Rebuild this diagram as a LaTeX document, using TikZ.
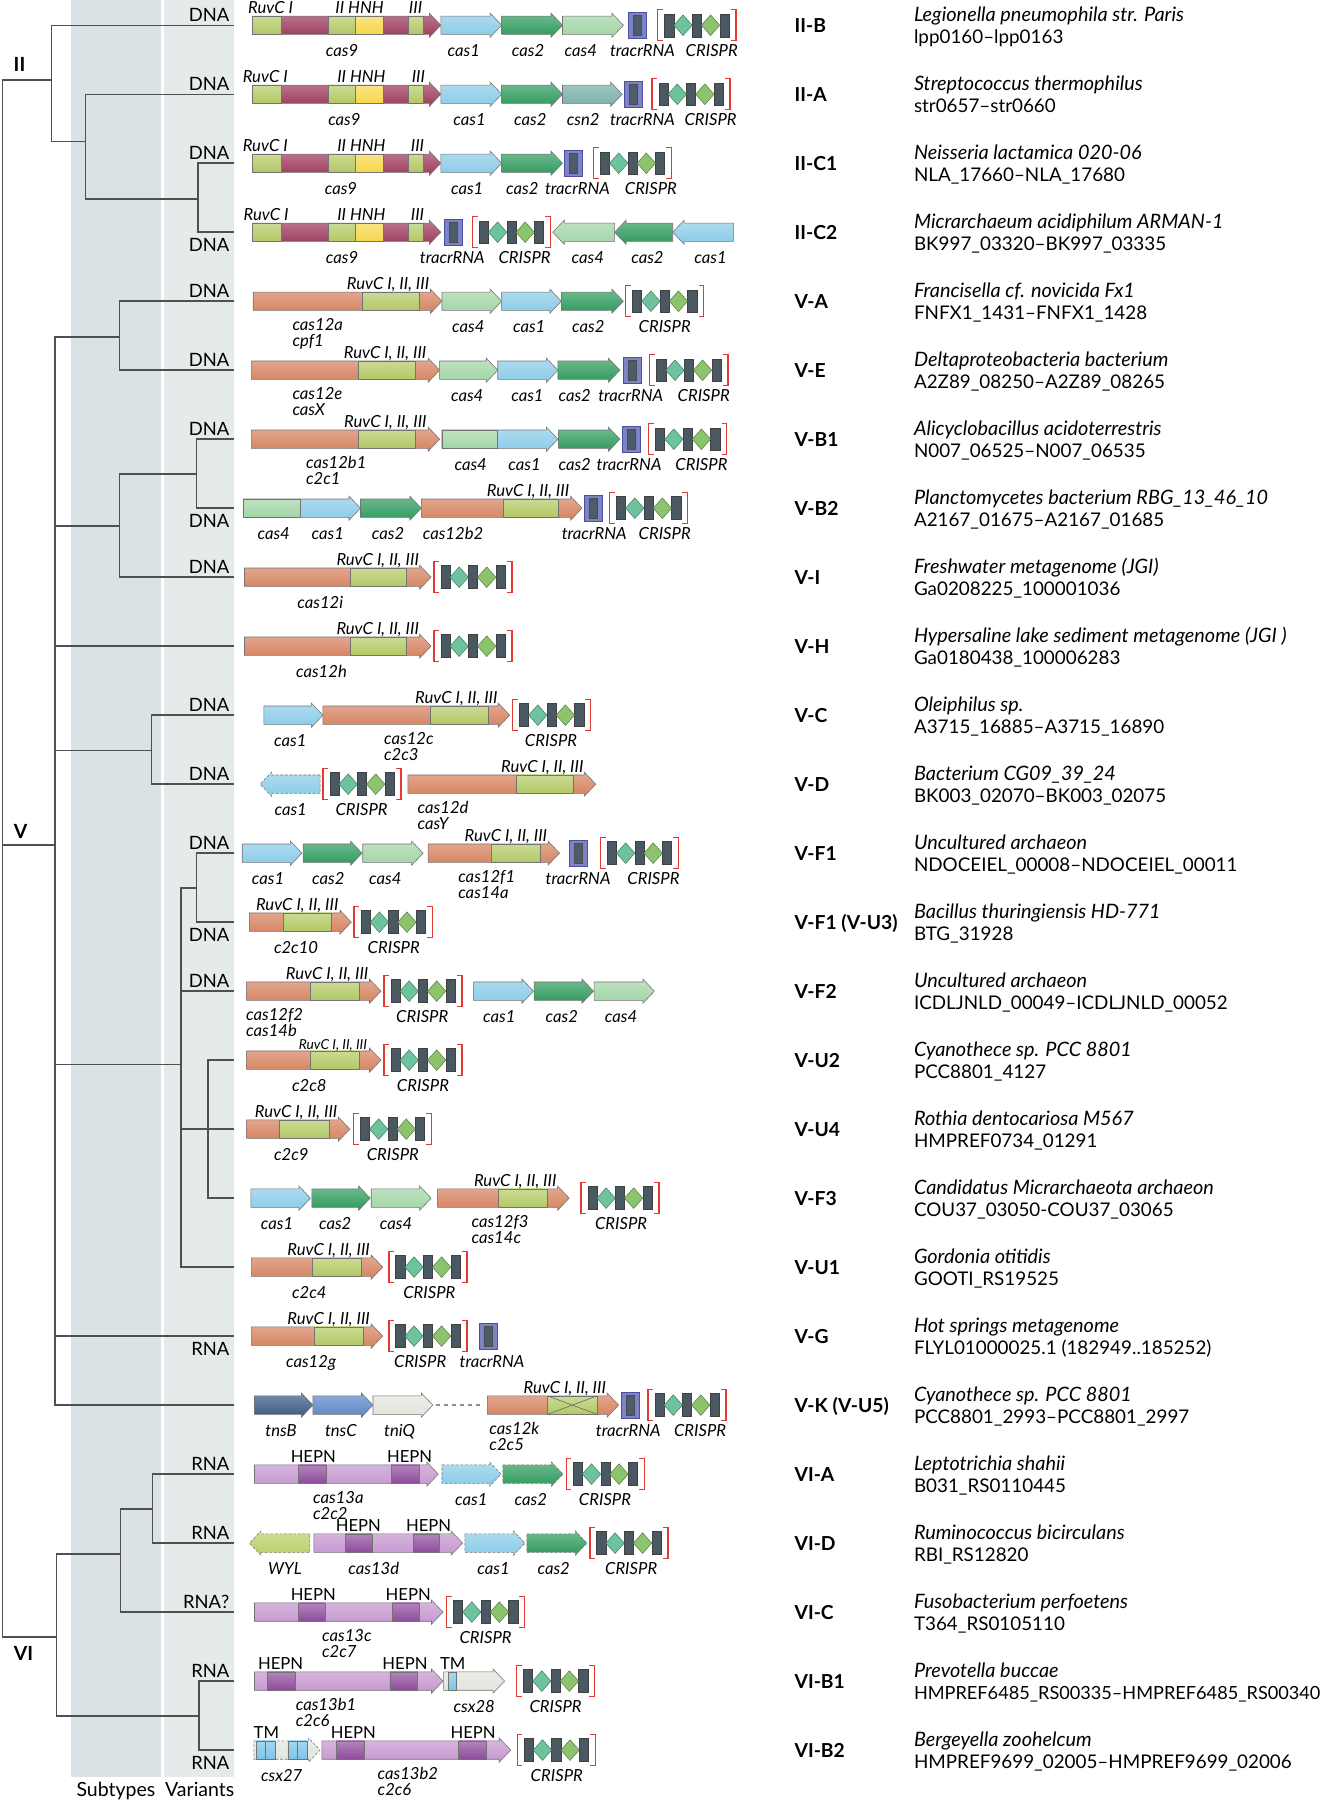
\documentclass[tikz,border=0pt]{standalone}
\usepackage{fontspec}
\setmainfont{Lato}
\definecolor{rv}{HTML}{B2C864}
\definecolor{c9}{HTML}{9C3A5C}
\definecolor{hnh}{HTML}{F6D64B}
\definecolor{c12}{HTML}{D5825F}
\definecolor{cs1}{HTML}{8ACBE8}
\definecolor{cs2}{HTML}{2E9A5C}
\definecolor{cs4}{HTML}{A2D5A6}
\definecolor{csn}{HTML}{79AFA8}
\definecolor{tnb}{HTML}{3B5882}
\definecolor{tnc}{HTML}{5B86C6}
\definecolor{tnq}{HTML}{E4E4DE}
\definecolor{c13}{HTML}{C597CF}
\definecolor{hepn}{HTML}{8E4B9B}
\definecolor{wyl}{HTML}{B8CF66}
\definecolor{tmc}{HTML}{7CC3E8}
\definecolor{repC}{HTML}{4A5862}
\definecolor{dA}{HTML}{6CC39D}
\definecolor{dB}{HTML}{8BC46C}
\definecolor{crRed}{HTML}{E53935}
\definecolor{trO}{HTML}{7E83C8}
\definecolor{trB}{HTML}{4B4F9C}
\definecolor{trI}{HTML}{4E5B68}
\definecolor{bandS}{HTML}{DAE2E5}
\definecolor{bandV}{HTML}{E5EAEB}
\definecolor{treec}{HTML}{505050}
\tikzset{
 gene/.style={top color=#1!68!white, bottom color=#1, draw=black!55, line width=0.5pt},
 dgene/.style={gene=#1, dashed, dash pattern=on 2.5pt off 1.5pt},
 brk/.style={draw=crRed, line width=1.2pt},
 repbox/.style={fill=repC, draw=black!75, line width=0.4pt},
 treeline/.style={draw=treec, line width=1.3pt},
 glab/.style={font=\fontsize{14.5}{15}\selectfont\itshape, inner sep=0pt, text height=10pt, text depth=3pt, yshift=-2.5pt},
 hlab/.style={font=\fontsize{14.5}{15}\selectfont, inner sep=0pt, text height=10pt, text depth=3pt, yshift=-2.5pt},
 dnal/.style={font=\fontsize{16}{18}\selectfont, anchor=east, inner sep=0pt, text height=11.5pt, text depth=3.5pt, yshift=-2.5pt},
 subl/.style={font=\fontsize{16.8}{18}\selectfont\bfseries, anchor=west, inner sep=0pt, text height=11.5pt, text depth=3.5pt, yshift=-2.5pt},
 spcl/.style={font=\fontsize{17.3}{18}\selectfont\itshape, anchor=west, inner sep=0pt, text height=11.5pt, text depth=3.5pt, yshift=-2.5pt},
 accl/.style={font=\fontsize{16.4}{18}\selectfont, anchor=west, inner sep=0pt, text height=11.5pt, text depth=3.5pt, yshift=-2.5pt},
 blab/.style={font=\fontsize{17}{18}\selectfont, inner sep=0pt, text height=11.5pt, text depth=3.5pt, yshift=-2.5pt},
 cladel/.style={font=\fontsize{17}{18}\selectfont\bfseries, inner sep=0pt},
 tnline/.style={draw=black!45, line width=1.6pt, dash pattern=on 4pt off 3pt},
}
\def\Y{0}
\newcommand{\myarr}[3]{\path[gene=#3] (#1,\Y-8) -- ({#2-10},\Y-8) -- ({#2-10},\Y-10.5) -- (#2,\Y) -- ({#2-10},\Y+10.5) -- ({#2-10},\Y+8) -- (#1,\Y+8) -- cycle;}
\newcommand{\myarrd}[3]{\path[dgene=#3] (#1,\Y-8) -- ({#2-10},\Y-8) -- ({#2-10},\Y-10.5) -- (#2,\Y) -- ({#2-10},\Y+10.5) -- ({#2-10},\Y+8) -- (#1,\Y+8) -- cycle;}
\newcommand{\myarl}[3]{\path[gene=#3] (#2,\Y-8) -- ({#1+10},\Y-8) -- ({#1+10},\Y-10.5) -- (#1,\Y) -- ({#1+10},\Y+10.5) -- ({#1+10},\Y+8) -- (#2,\Y+8) -- cycle;}
\newcommand{\myarld}[3]{\path[dgene=#3] (#2,\Y-8) -- ({#1+10},\Y-8) -- ({#1+10},\Y-10.5) -- (#1,\Y) -- ({#1+10},\Y+10.5) -- ({#1+10},\Y+8) -- (#2,\Y+8) -- cycle;}
\newcommand{\myseg}[3]{\path[gene=#3] (#1,\Y-8) rectangle (#2,\Y+8);}
\newcommand{\mytracr}[1]{\path[fill=trO, draw=trB, line width=0.7pt] (#1,\Y-11.5) rectangle ({#1+16},\Y+11.5);
 \path[fill=trI, draw=black!70, line width=0.4pt] ({#1+4.5},\Y-8.5) rectangle ({#1+11.5},\Y+8.5);}
\newcommand{\mycrispr}[1]{%
 \draw[brk] ({#1+4.5},\Y-13.5) -- (#1,\Y-13.5) -- (#1,\Y+13.5) -- ({#1+4.5},\Y+13.5);
 \draw[brk] ({#1+63.5},\Y-13.5) -- ({#1+68},\Y-13.5) -- ({#1+68},\Y+13.5) -- ({#1+63.5},\Y+13.5);
 \path[repbox] ({#1+6},\Y-10) rectangle ({#1+14},\Y+10);
 \path[repbox] ({#1+30},\Y-10) rectangle ({#1+38},\Y+10);
 \path[repbox] ({#1+54},\Y-10) rectangle ({#1+62},\Y+10);
 \path[fill=dA, draw=dA!60!black, line width=0.4pt] ({#1+14},\Y) -- ({#1+22},\Y-9) -- ({#1+30},\Y) -- ({#1+22},\Y+9) -- cycle;
 \path[fill=dB, draw=dB!60!black, line width=0.4pt] ({#1+38},\Y) -- ({#1+46},\Y-9) -- ({#1+54},\Y) -- ({#1+46},\Y+9) -- cycle;}
\newcommand{\mygl}[3]{\node[glab] (#1) at (#2,\Y+21.5) {#3};}
\newcommand{\myglw}[4]{\node[glab,anchor=west] (#1a) at (#2,\Y+19.5) {#3}; \node[glab,anchor=west] (#1b) at (#2,\Y+33.5) {#4};}
\newcommand{\mytl}[3]{\node[glab] (#1) at (#2,\Y-16.5) {#3};}
\newcommand{\mytlw}[3]{\node[glab,anchor=west] (#1) at (#2,\Y-16.5) {#3};}
\newcommand{\myhl}[3]{\node[hlab] (#1) at (#2,\Y-16.5) {#3};}
\newcommand{\mycasnine}{\myarr{220}{384}{c9}\myseg{220}{244.8}{rv}\myseg{286.4}{309.7}{rv}\myseg{309.7}{333.5}{hnh}\myseg{355.5}{369.1}{rv}}
\newcommand{\myside}[5]{\node[subl] (s#1) at (692,#2) {#3}; \node[spcl] (p#1) at (796,#2-9.5) {#4}; \node[accl] (a#1) at (796,#2+9.5) {#5};}
\begin{document}
\begin{tikzpicture}[x=1pt,y=-1pt]
\useasboundingbox (0,0) rectangle (1156,1568);
\fill[white] (0,0) rectangle (1156,1568);
\fill[bandS] (62,0) rectangle (140,1548);
\fill[bandV] (143,0) rectangle (204,1548);
\node[blab] (lsub) at (101,1558.5) {Subtypes};
\node[blab] (lvar) at (174,1558.5) {Variants};
% ---------- tree ----------
\coordinate (root) at (2,736);
\coordinate (nII) at (45,69.5);
\coordinate (nA2) at (74.3,123.4);
\coordinate (nA3) at (172.6,173.3);
\coordinate (nV) at (48,736);
\coordinate (nB1) at (104,293.5);
\coordinate (nB2) at (104,458.4);
\coordinate (nB3) at (171,412.8);
\coordinate (nB4) at (132,653.9);
\coordinate (nB5) at (157.7,927.5);
\coordinate (nB6) at (171,773.5);
\coordinate (nB7) at (181,983.6);
\coordinate (nVI) at (49,1426);
\coordinate (nC1) at (104.8,1353.6);
\coordinate (nC2) at (133,1314.7);
\coordinate (nC3) at (173.3,1494.8);
\foreach \i/\yy in {1/22,2/82.1,3/142.2,4/202.3,5/262.4,6/322.5,7/382.6,8/442.7,9/502.8,10/562.9,11/623,12/683.1,13/743.2,14/803.3,15/863.4,16/923.5,17/983.6,18/1043.7,19/1103.8,20/1163.9,21/1224,22/1284.1,23/1344.2,24/1404.3,25/1464.4,26/1524.5}
  {\coordinate (L\i) at (204,\yy);}
\draw[treeline] (root) |- (nII) (root) |- (nV) (root) |- (nVI)
  (nII) |- (L1) (nII) |- (nA2) (nA2) |- (L2) (nA2) |- (nA3) (nA3) |- (L3) (nA3) |- (L4)
  (nV) |- (nB1) (nV) |- (nB2) (nV) |- (L10) (nV) |- (nB4) (nV) |- (nB5) (nV) |- (L20) (nV) |- (L21)
  (nB1) |- (L5) (nB1) |- (L6) (nB2) |- (nB3) (nB2) |- (L9) (nB3) |- (L7) (nB3) |- (L8)
  (nB4) |- (L11) (nB4) |- (L12)
  (nB5) |- (nB6) (nB5) |- (L15) (nB5) |- (nB7) (nB5) |- (L19)
  (nB6) |- (L13) (nB6) |- (L14) (nB7) |- (L16) (nB7) |- (L17) (nB7) |- (L18)
  (nVI) |- (nC1) (nVI) |- (nC3) (nC1) |- (nC2) (nC1) |- (L24)
  (nC2) |- (L22) (nC2) |- (L23) (nC3) |- (L25) (nC3) |- (L26);
\node[cladel] (cII) at (17,56) {II};
\node[cladel] (cV) at (18,724) {V};
\node[cladel] (cVI) at (20.5,1440) {VI};
% ---------- Row 1 ----------
\def\Y{22}
\mycasnine\myarr{384}{437}{cs1}\myarr{437}{490}{cs2}\myarr{490}{543}{cs4}\mytracr{547}\mycrispr{573}
\mytlw{t1a}{216}{RuvC I}\mytlw{t1b}{292}{II HNH}\mytlw{t1c}{356}{III}
\mygl{b1a}{298}{cas9}\mygl{b1b}{404}{cas1}\mygl{b1c}{460}{cas2}\mygl{b1d}{506}{cas4}\mygl{b1e}{559.6}{tracrRNA}\mygl{b1f}{620}{CRISPR}
\node[dnal] (v1) at (200,\Y-9.5) {DNA};
% ---------- Row 2 ----------
\def\Y{82.1}
\mycasnine\myarr{384}{437}{cs1}\myarr{437}{490}{cs2}\myarr{490}{542}{csn}\mytracr{544}\mycrispr{568}
\mytlw{t2a}{211.3}{RuvC I}\mytlw{t2b}{293.6}{II HNH}\mytlw{t2c}{358.5}{III}
\mygl{b2a}{300}{cas9}\mygl{b2b}{409}{cas1}\mygl{b2c}{462}{cas2}\mygl{b2d}{508}{csn2}\mygl{b2e}{559.6}{tracrRNA}\mygl{b2f}{619}{CRISPR}
\node[dnal] (v2) at (200,\Y-9.5) {DNA};
% ---------- Row 3 ----------
\def\Y{142.2}
\mycasnine\myarr{384}{437}{cs1}\myarr{437}{490}{cs2}\mytracr{491.5}\mycrispr{517}
\mytlw{t3a}{211.3}{RuvC I}\mytlw{t3b}{293.6}{II HNH}\mytlw{t3c}{357.7}{III}
\mygl{b3a}{297}{cas9}\mygl{b3b}{407}{cas1}\mygl{b3c}{455}{cas2}\mygl{b3e}{503}{tracrRNA}\mygl{b3f}{567}{CRISPR}
\node[dnal] (v3) at (200,\Y-9.5) {DNA};
% ---------- Row 4 ----------
\def\Y{202.3}
\mycasnine\mytracr{387}\mycrispr{411.5}\myarl{481.5}{535.4}{cs4}\myarl{535.4}{586}{cs2}\myarl{586}{639}{cs1}
\mytlw{t4a}{212}{RuvC I}\mytlw{t4b}{293.6}{II HNH}\mytlw{t4c}{357.7}{III}
\mygl{b4a}{298}{cas9}\mygl{b4b}{394}{tracrRNA}\mygl{b4c}{457}{CRISPR}\mygl{b4d}{512}{cas4}\mygl{b4e}{564}{cas2}\mygl{b4f}{619}{cas1}
\node[dnal] (v4) at (200,\Y+10.5) {DNA};
% ---------- Row 5 ----------
\def\Y{262.4}
\myarr{220.6}{385}{c12}\myseg{316}{365}{rv}\myarr{385}{437}{cs4}\myarr{437}{489}{cs1}\myarr{489}{543}{cs2}\mycrispr{545}
\mytl{t5}{338}{RuvC I, II, III}
\myglw{b5a}{254.6}{cas12a}{cpf1}\mygl{b5b}{408}{cas4}\mygl{b5c}{461}{cas1}\mygl{b5d}{512.5}{cas2}\mygl{b5e}{579}{CRISPR}
\node[dnal] (v5) at (200,\Y-9.5) {DNA};
% ---------- Row 6 ----------
\def\Y{322.5}
\myarr{219}{383}{c12}\myseg{312}{361.5}{rv}\myarr{383}{433.6}{cs4}\myarr{433.6}{486}{cs1}\myarr{486}{540}{cs2}\mytracr{543}\mycrispr{566}
\mytl{t6}{335.5}{RuvC I, II, III}
\myglw{b6a}{254.6}{cas12e}{casX}\mygl{b6b}{407}{cas4}\mygl{b6c}{459.5}{cas1}\mygl{b6d}{500.6}{cas2}\mygl{b6e}{549.4}{tracrRNA}\mygl{b6f}{613}{CRISPR}
\node[dnal] (v6) at (200,\Y-9.5) {DNA};
% ---------- Row 7 ----------
\def\Y{382.6}
\myarr{219}{383}{c12}\myseg{312}{361.5}{rv}\myarr{385}{486}{cs1}\myseg{385}{433.6}{cs4}\myarr{486.6}{540}{cs2}\mytracr{542}\mycrispr{565}
\mytl{t7}{335.7}{RuvC I, II, III}
\myglw{b7a}{266.4}{cas12b1}{c2c1}\mygl{b7b}{410}{cas4}\mygl{b7c}{457}{cas1}\mygl{b7d}{500.6}{cas2}\mygl{b7e}{548}{tracrRNA}\mygl{b7f}{611}{CRISPR}
\node[dnal] (v7) at (200,\Y-9.5) {DNA};
% ---------- Row 8 ----------
\def\Y{442.7}
\myarr{212}{314}{cs1}\myseg{212}{262}{cs4}\myarr{314}{367}{cs2}\myarr{367}{507}{c12}\myseg{438}{486}{rv}\mytracr{509}\mycrispr{531}
\mytl{t8}{460}{RuvC I, II, III}
\mygl{b8a}{238.4}{cas4}\mygl{b8b}{285.5}{cas1}\mygl{b8c}{338}{cas2}\mygl{b8d}{394.6}{cas12b2}\mygl{b8e}{517.6}{tracrRNA}\mygl{b8f}{579}{CRISPR}
\node[dnal] (v8) at (200,\Y+10.5) {DNA};
% ---------- Row 9 ----------
\def\Y{502.8}
\myarr{213}{375.5}{c12}\myseg{305.5}{354.2}{rv}\mycrispr{378}
\mytl{t9}{329}{RuvC I, II, III}
\mygl{b9a}{279}{cas12i}
\node[dnal] (v9) at (200,\Y-9.5) {DNA};
% ---------- Row 10 ----------
\def\Y{562.9}
\myarr{213}{375.5}{c12}\myseg{305.5}{354.2}{rv}\mycrispr{378}
\mytl{t10}{329}{RuvC I, II, III}
\mygl{b10a}{280}{cas12h}
% ---------- Row 11 ----------
\def\Y{623}
\myarr{229.8}{281.3}{cs1}\myarr{281.3}{444}{c12}\myseg{375}{425}{rv}\mycrispr{446.5}
\mytl{t11}{397.5}{RuvC I, II, III}
\mygl{b11a}{252.9}{cas1}\myglw{b11b}{334.4}{cas12c}{c2c3}\mygl{b11c}{480}{CRISPR}
\node[dnal] (v11) at (200,\Y-9.5) {DNA};
% ---------- Row 12 ----------
\def\Y{683.1}
\myarld{226.6}{278.8}{cs1}\mycrispr{281.3}\myarr{355.3}{519}{c12}\myseg{449.6}{499}{rv}
\mytl{t12}{472.4}{RuvC I, II, III}
\mygl{b12a}{253.2}{cas1}\mygl{b12b}{315}{CRISPR}\myglw{b12c}{363.7}{cas12d}{casY}
\node[dnal] (v12) at (200,\Y-9.5) {DNA};
% ---------- Row 13 ----------
\def\Y{743.2}
\myarr{211}{263}{cs1}\myarr{264}{315.4}{cs2}\myarr{316}{368.6}{cs4}\myarr{373}{487.4}{c12}\myseg{427.7}{470.8}{rv}\mytracr{495.7}\mycrispr{523}
\mytl{t13}{440.7}{RuvC I, II, III}
\mygl{b13a}{233.5}{cas1}\mygl{b13b}{286}{cas2}\mygl{b13c}{335.6}{cas4}\myglw{b13d}{399}{cas12f1}{cas14a}\mygl{b13e}{503.6}{tracrRNA}\mygl{b13f}{569.2}{CRISPR}
\node[dnal] (v13) at (200,\Y-9.5) {DNA};
% ---------- Row 14 ----------
\def\Y{803.3}
\myarr{217.3}{306}{c12}\myseg{246.6}{289}{rv}\mycrispr{308.5}
\mytl{t14}{258.9}{RuvC I, II, III}
\mygl{b14a}{257.9}{c2c10}\mygl{b14b}{343}{CRISPR}
\node[dnal] (v14) at (200,\Y+10.5) {DNA};
% ---------- Row 15 ----------
\def\Y{863.4}
\myarr{214.8}{331.9}{c12}\myseg{270}{313}{rv}\mycrispr{334.4}\myarr{412.5}{464.7}{cs1}\myarr{465.3}{517}{cs2}\myarr{517.6}{570}{cs4}
\mytl{t15}{285}{RuvC I, II, III}
\myglw{b15a}{214.2}{cas12f2}{cas14b}\mygl{b15b}{367.8}{CRISPR}\mygl{b15c}{434.9}{cas1}\mygl{b15d}{489.4}{cas2}\mygl{b15e}{541}{cas4}
\node[dnal] (v15) at (200,\Y-9.5) {DNA};
% ---------- Row 16 ----------
\def\Y{923.5}
\myarr{214.8}{331.9}{c12}\myseg{270}{313.4}{rv}\mycrispr{334.4}
\node[glab, font=\fontsize{12}{13}\selectfont\itshape] (t16) at (290,\Y-15.5) {RuvC I, II, III};
\mygl{b16a}{269.4}{c2c8}\mygl{b16b}{368.4}{CRISPR}
% ---------- Row 17 ----------
\def\Y{983.6}
\myarr{214.8}{304.8}{c12}\myseg{243.5}{286.6}{rv}\mycrispr{307.9}
\mytl{t17}{258}{RuvC I, II, III}
\mygl{b17a}{253.8}{c2c9}\mygl{b17b}{342.2}{CRISPR}
% ---------- Row 18 ----------
\def\Y{1043.7}
\myarr{218.6}{270.4}{cs1}\myarr{271.6}{322.5}{cs2}\myarr{323.4}{375.6}{cs4}\myarr{381.2}{495.8}{c12}\myseg{434.3}{477}{rv}\mycrispr{506}
\mytl{t18}{448.8}{RuvC I, II, III}
\mygl{b18a}{241.4}{cas1}\mygl{b18b}{292}{cas2}\mygl{b18c}{345}{cas4}\myglw{b18d}{410.6}{cas12f3}{cas14c}\mygl{b18e}{541}{CRISPR}
% ---------- Row 19 ----------
\def\Y{1103.8}
\myarr{218.9}{333.4}{c12}\myseg{272}{314.7}{rv}\mycrispr{338.7}
\mytl{t19}{286.3}{RuvC I, II, III}
\mygl{b19a}{269.4}{c2c4}\mygl{b19b}{374}{CRISPR}
% ---------- Row 20 ----------
\def\Y{1163.9}
\myarr{218.9}{333.4}{c12}\myseg{273.5}{316.3}{rv}\mycrispr{338.7}\mytracr{417.7}
\mytl{t20}{286.3}{RuvC I, II, III}
\mygl{b20a}{271}{cas12g}\mygl{b20b}{366}{CRISPR}\mygl{b20c}{428.6}{tracrRNA}
\node[dnal] (v20) at (200,\Y+10.5) {RNA};
% ---------- Row 21 ----------
\def\Y{1224}
\myarr{221.7}{272.6}{tnb}\myarr{272.6}{324.9}{tnc}\myarr{324.9}{377}{tnq}
\coordinate (k1) at (379.5,\Y); \coordinate (k2) at (421,\Y);
\draw[tnline] (k1) -- (k2);
\myarr{424.6}{538.9}{c12}\myseg{477}{520}{rv}
\draw[black!60, line width=0.5pt] (477,\Y-8) -- (520,\Y+8) (477,\Y+8) -- (520,\Y-8);
\mytracr{541}\mycrispr{564.5}
\mytl{t21}{492}{RuvC I, II, III}
\mygl{b21a}{244.8}{tnsB}\mygl{b21b}{296.9}{tnsC}\mygl{b21c}{348}{tniQ}\myglw{b21d}{426.2}{cas12k}{c2c5}\mygl{b21e}{547.3}{tracrRNA}\mygl{b21f}{609.8}{CRISPR}
% ---------- Row 22 ----------
\def\Y{1284.1}
\myarr{221.7}{381.8}{c13}\myseg{260.1}{284.2}{hepn}\myseg{340.6}{365.3}{hepn}\myarrd{385}{436.5}{cs1}\myarrd{438}{490.4}{cs2}\mycrispr{493.3}
\myhl{h22a}{272.9}{HEPN}\myhl{h22b}{356.8}{HEPN}
\myglw{b22a}{272.6}{cas13a}{c2c2}\mygl{b22b}{410.6}{cas1}\mygl{b22c}{462.4}{cas2}\mygl{b22d}{527}{CRISPR}
\node[dnal] (v22) at (200,\Y-9.5) {RNA};
% ---------- Row 23 ----------
\def\Y{1344.2}
\myarld{217.3}{270}{wyl}\myarr{273.4}{402.9}{c13}\myseg{300.6}{324}{hepn}\myseg{359.8}{382.6}{hepn}\myarrd{405}{457.3}{cs1}\myarrd{458.9}{511.3}{cs2}\mycrispr{513.8}
\myhl{h23a}{312.2}{HEPN}\myhl{h23b}{373.4}{HEPN}
\mygl{b23a}{248.2}{WYL}\mygl{b23b}{325.6}{cas13d}\mygl{b23c}{430}{cas1}\mygl{b23d}{482.3}{cas2}\mygl{b23e}{549.8}{CRISPR}
\node[dnal] (v23) at (200,\Y-9.5) {RNA};
% ---------- Row 24 ----------
\def\Y{1404.3}
\myarr{221.7}{385.9}{c13}\myseg{260.1}{283.5}{hepn}\myseg{341.8}{365.3}{hepn}\mycrispr{389}
\myhl{h24a}{272.9}{HEPN}\myhl{h24b}{355.6}{HEPN}
\myglw{b24a}{280.4}{cas13c}{c2c7}\mygl{b24b}{423}{CRISPR}
\node[dnal] (v24) at (200,\Y-9.5) {RNA?};
% ---------- Row 25 ----------
\def\Y{1464.4}
\myarr{221.7}{385.9}{c13}\myseg{232.9}{256.9}{hepn}\myseg{339.7}{363.7}{hepn}\myarr{386.5}{439.5}{tnq}\myseg{390.5}{397.7}{tmc}\mycrispr{450}
\myhl{h25a}{244.4}{HEPN}\myhl{h25b}{352.8}{HEPN}\myhl{h25c}{394.3}{TM}
\myglw{b25a}{257.5}{cas13b1}{c2c6}\mygl{b25b}{413.1}{csx28}\mygl{b25c}{484}{CRISPR}
\node[dnal] (v25) at (200,\Y-9.5) {RNA};
% ---------- Row 26 ----------
\def\Y{1524.5}
\myarrd{221.1}{278.8}{tnq}\myseg{223.3}{231.4}{tmc}\myseg{231.4}{239.8}{tmc}\myseg{250.7}{259.1}{tmc}\myseg{259.1}{267.8}{tmc}
\myarr{280.4}{444.9}{c13}\myseg{292.9}{316.9}{hepn}\myseg{399.6}{423.4}{hepn}\mycrispr{450.6}
\myhl{h26a}{232}{TM}\myhl{h26b}{307.8}{HEPN}\myhl{h26c}{412.1}{HEPN}
\mygl{b26a}{245.4}{csx27}\myglw{b26b}{328.8}{cas13b2}{c2c6}\mygl{b26c}{485}{CRISPR}
\node[dnal] (v26) at (200,\Y+10.5) {RNA};
% ---------- right side ----------
\myside{1}{22}{II-B}{Legionella pneumophila str. Paris}{lpp0160–lpp0163}
\myside{2}{82.1}{II-A}{Streptococcus thermophilus}{str0657–str0660}
\myside{3}{142.2}{II-C1}{Neisseria lactamica 020-06}{NLA\_17660–NLA\_17680}
\myside{4}{202.3}{II-C2}{Micrarchaeum acidiphilum ARMAN-1}{BK997\_03320–BK997\_03335}
\myside{5}{262.4}{V-A}{Francisella cf. novicida Fx1}{FNFX1\_1431–FNFX1\_1428}
\myside{6}{322.5}{V-E}{Deltaproteobacteria bacterium}{A2Z89\_08250–A2Z89\_08265}
\myside{7}{382.6}{V-B1}{Alicyclobacillus acidoterrestris}{N007\_06525–N007\_06535}
\myside{8}{442.7}{V-B2}{Planctomycetes bacterium RBG\_13\_46\_10}{A2167\_01675–A2167\_01685}
\myside{9}{502.8}{V-I}{Freshwater metagenome (JGI)}{Ga0208225\_100001036}
\myside{10}{562.9}{V-H}{Hypersaline lake sediment metagenome (JGI )}{Ga0180438\_100006283}
\myside{11}{623}{V-C}{Oleiphilus sp.}{A3715\_16885–A3715\_16890}
\myside{12}{683.1}{V-D}{Bacterium CG09\_39\_24}{BK003\_02070–BK003\_02075}
\myside{13}{743.2}{V-F1}{Uncultured archaeon}{NDOCEIEL\_00008–NDOCEIEL\_00011}
\myside{14}{803.3}{V-F1 (V-U3)}{Bacillus thuringiensis HD-771}{BTG\_31928}
\myside{15}{863.4}{V-F2}{Uncultured archaeon}{ICDLJNLD\_00049–ICDLJNLD\_00052}
\myside{16}{923.5}{V-U2}{Cyanothece sp. PCC 8801}{PCC8801\_4127}
\myside{17}{983.6}{V-U4}{Rothia dentocariosa M567}{HMPREF0734\_01291}
\myside{18}{1043.7}{V-F3}{Candidatus Micrarchaeota archaeon}{COU37\_03050-COU37\_03065}
\myside{19}{1103.8}{V-U1}{Gordonia otitidis}{GOOTI\_RS19525}
\myside{20}{1163.9}{V-G}{Hot springs metagenome}{FLYL01000025.1 (182949..185252)}
\myside{21}{1224}{V-K (V-U5)}{Cyanothece sp. PCC 8801}{PCC8801\_2993–PCC8801\_2997}
\myside{22}{1284.1}{VI-A}{Leptotrichia shahii}{B031\_RS0110445}
\myside{23}{1344.2}{VI-D}{Ruminococcus bicirculans}{RBI\_RS12820}
\myside{24}{1404.3}{VI-C}{Fusobacterium perfoetens}{T364\_RS0105110}
\node[subl] (s25) at (692,1464.4) {VI-B1};
\node[spcl] (p25) at (796,1464.4-9.5) {Prevotella buccae};
\node[accl, font=\fontsize{15.8}{18}\selectfont] (a25) at (796,1464.4+9.5) {HMPREF6485\_RS00335–HMPREF6485\_RS00340};
\myside{26}{1524.5}{VI-B2}{Bergeyella zoohelcum}{HMPREF9699\_02005–HMPREF9699\_02006}
\end{tikzpicture}
\end{document}
